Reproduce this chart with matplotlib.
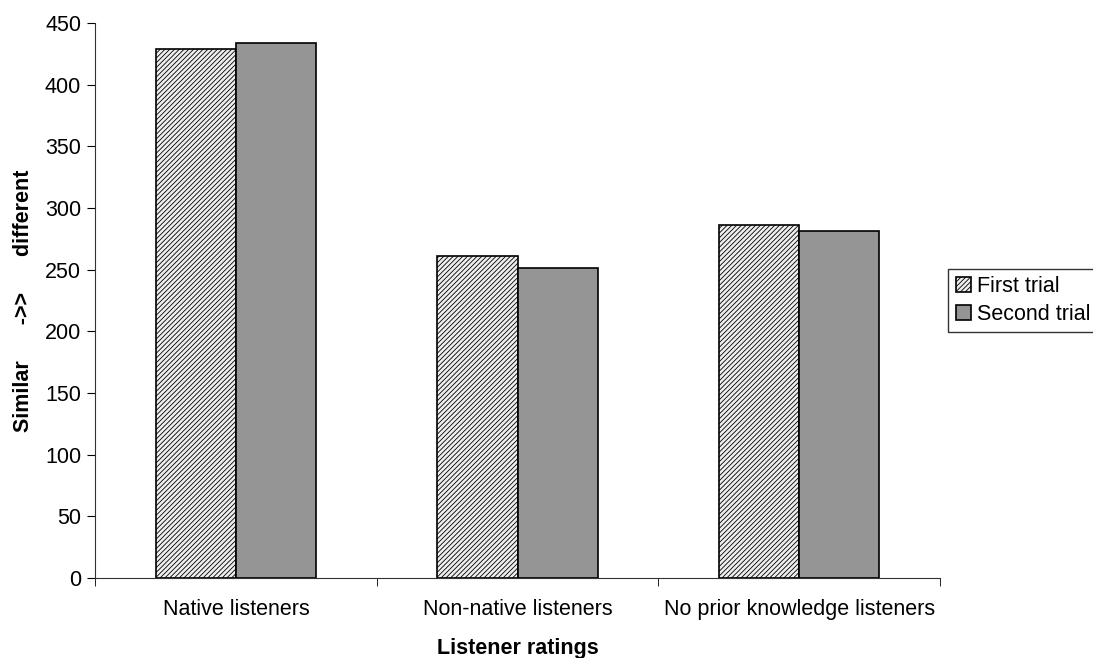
import numpy as np
import matplotlib
matplotlib.use('Agg')
import matplotlib.pyplot as plt

plt.rcParams['font.family'] = ['Liberation Sans', 'DejaVu Sans']
plt.rcParams['hatch.color'] = '#b4b4b4'
plt.rcParams['hatch.linewidth'] = 0.6

# listener groups and mean ratings per trial
groups = ['Native listeners', 'Non-native listeners', 'No prior knowledge listeners']
first_trial = [429, 261, 286]
second_trial = [434, 251, 281]

fig = plt.figure(figsize=(10.93, 6.58), dpi=100)
ax = fig.add_axes([0.087, 0.1216, 0.773, 0.8434])

x = np.arange(len(groups))
w = 0.285
ax.bar(x - w/2, first_trial, w, color='#eeeeee', edgecolor='black', hatch='///////',
       linewidth=1.2, label='First trial')
ax.bar(x + w/2, second_trial, w, color='#959595', edgecolor='black',
       linewidth=1.2, label='Second trial')

fs = 15.5
ax.set_xlim(-0.5, 2.5)
ax.set_ylim(0, 450)
ax.set_yticks(np.arange(0, 451, 50))
ax.set_xticks(x)
ax.set_xticklabels(groups, fontsize=fs)
ax.set_xticks([-0.5, 0.5, 1.5, 2.5], minor=True)
ax.tick_params(axis='x', which='major', length=0, pad=15)
ax.tick_params(axis='x', which='minor', length=6, direction='out')
ax.tick_params(axis='y', labelsize=fs, length=6, direction='out', pad=4)
for s in ['top', 'right']:
    ax.spines[s].set_visible(False)
ax.spines['left'].set_color('#333333')
ax.spines['bottom'].set_color('#333333')

ax.set_ylabel('Similar      ->>      different', fontsize=fs, fontweight='bold', labelpad=8)
ax.set_xlabel('Listener ratings', fontsize=fs, fontweight='bold', labelpad=13)

leg = ax.legend(loc='center left', bbox_to_anchor=(1.01, 0.5), fontsize=fs,
                frameon=True, fancybox=False, edgecolor='black', handlelength=0.7,
                handleheight=0.7, handletextpad=0.3, borderpad=0.35, labelspacing=0.3,
                borderaxespad=0)
leg.get_frame().set_linewidth(1.0)

fig.savefig('out.png', dpi=100)
